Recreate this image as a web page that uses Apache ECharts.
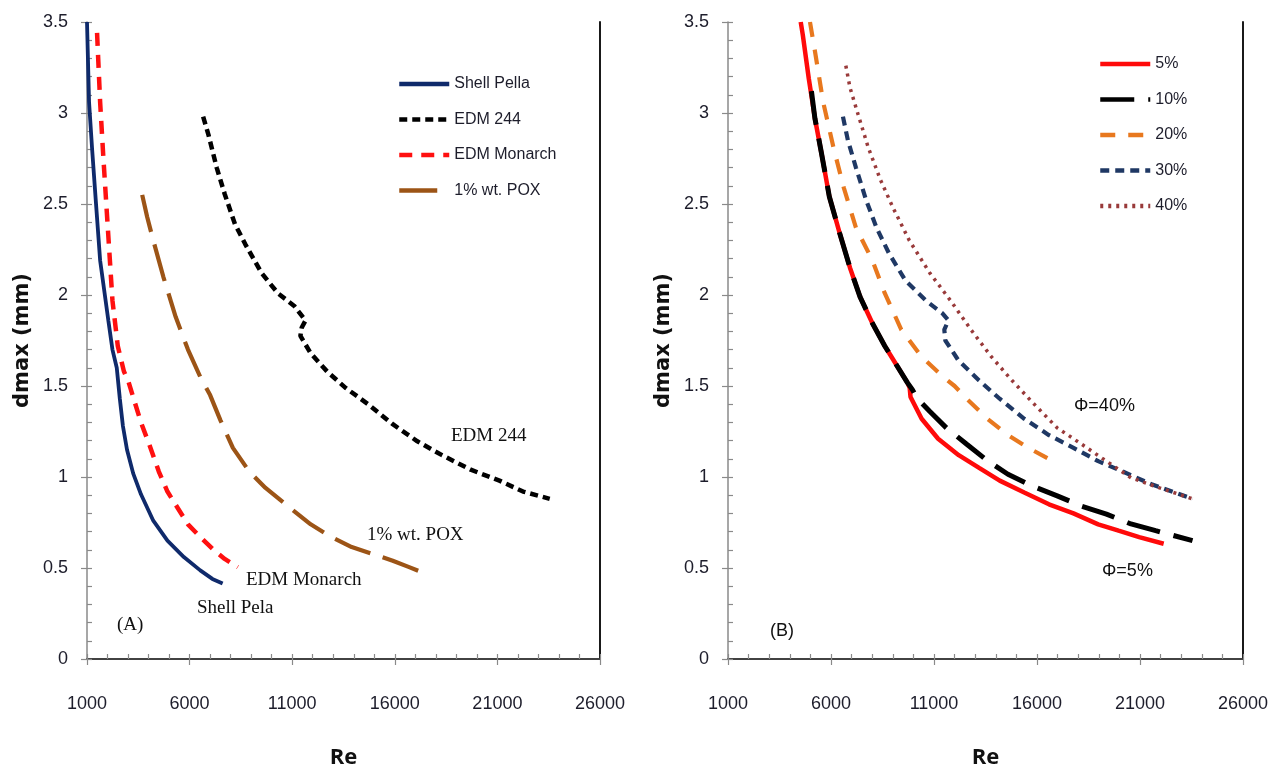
<!DOCTYPE html>
<html>
<head>
<meta charset="utf-8">
<script src="https://cdn.jsdelivr.net/npm/echarts@6/dist/echarts.min.js"></script>
<style>
  html, body { margin: 0; padding: 0; background: #fff; }
  #chart { width: 1280px; height: 774px; }
</style>
</head>
<body>
<div id="chart"></div>
<script>
// ---- Data (Re, dmax in mm) ----
const xTicks = [1000, 6000, 11000, 16000, 21000, 26000];
const yTicks = [0, 0.5, 1, 1.5, 2, 2.5, 3, 3.5];

// Panel A
const shellPella = [[1000,3.5],[1100,3.06],[1250,2.8],[1440,2.5],[1640,2.19],[2040,1.86],[2240,1.70],[2450,1.6],[2600,1.43],[2750,1.28],[2950,1.15],[3250,1.02],[3630,0.905],[4230,0.76],[4920,0.65],[5720,0.56],[6520,0.487],[7110,0.44],[7610,0.415]];
const edm244 = [[6660,2.98],[6920,2.88],[7320,2.70],[7710,2.555],[8210,2.39],[8710,2.28],[9510,2.12],[10300,2.01],[11100,1.94],[11650,1.86],[11460,1.82],[11400,1.775],[11900,1.68],[12700,1.58],[13600,1.49],[14700,1.40],[15900,1.29],[17100,1.196],[18300,1.12],[19700,1.04],[21100,0.98],[22250,0.92],[23550,0.88]];
const edmMonarch = [[1490,3.44],[1640,3.06],[1800,2.75],[1980,2.43],[2240,1.97],[2500,1.72],[2800,1.58],[3030,1.52],[3630,1.30],[4030,1.18],[4500,1.03],[4920,0.92],[5420,0.83],[5920,0.74],[6520,0.67],[7120,0.605],[7710,0.55],[8350,0.505]];
const pox = [[3690,2.55],[3930,2.43],[4230,2.30],[4720,2.10],[5320,1.88],[5920,1.70],[6520,1.55],[7000,1.45],[7510,1.31],[8110,1.16],[8910,1.03],[9700,0.94],[10900,0.83],[11900,0.74],[12900,0.67],[13900,0.615],[14900,0.578],[15900,0.54],[16700,0.505],[17250,0.48]];

// Panel B
const phi5 = [[4530,3.5],[4630,3.43],[4920,3.19],[5220,2.97],[5520,2.79],[5920,2.54],[6420,2.34],[6920,2.15],[7410,1.99],[8010,1.845],[8610,1.72],[9210,1.61],[9700,1.52],[9820,1.49],[9860,1.44],[10400,1.32],[11200,1.21],[12200,1.12],[13190,1.05],[14190,0.98],[15380,0.915],[16580,0.85],[17770,0.80],[18970,0.74],[19960,0.705],[20960,0.67],[22150,0.633]];
const phi10 = [[5050,3.12],[5220,2.97],[5520,2.79],[5920,2.54],[6420,2.34],[6920,2.15],[7410,1.99],[8010,1.845],[8610,1.72],[9210,1.61],[9700,1.52],[9950,1.48],[10200,1.43],[10800,1.36],[11600,1.27],[12590,1.18],[13590,1.09],[14590,1.015],[15780,0.95],[16980,0.896],[18170,0.84],[19370,0.796],[20560,0.742],[21760,0.705],[23550,0.65]];
const phi20 = [[4980,3.5],[5220,3.34],[5620,3.06],[6120,2.81],[6620,2.59],[7210,2.37],[8010,2.19],[8610,2.01],[9410,1.81],[10400,1.66],[11400,1.555],[12000,1.50],[12590,1.43],[13590,1.32],[14590,1.23],[15580,1.16],[16780,1.087]];
const phi30 = [[6580,2.98],[6820,2.85],[7210,2.70],[7710,2.52],[8210,2.37],[8810,2.23],[9610,2.08],[10600,1.97],[11400,1.90],[11700,1.86],[11500,1.81],[11550,1.75],[12190,1.64],[13190,1.53],[14190,1.43],[15380,1.32],[16580,1.23],[17770,1.16],[18970,1.087],[20160,1.03],[21560,0.96],[23550,0.88]];
const phi40 = [[6720,3.26],[6920,3.14],[7320,2.99],[7810,2.81],[8410,2.63],[9010,2.48],[9800,2.30],[10800,2.12],[11800,1.97],[12790,1.81],[13790,1.66],[14790,1.53],[15780,1.41],[16980,1.27],[18170,1.18],[19370,1.087],[20560,0.996],[21950,0.94],[23550,0.88]];

const namesA = ['Shell Pella', 'EDM 244', 'EDM Monarch', '1% wt. POX'];
const namesB = ['5%', '10%', '20%', '30%', '40%'];

// ---- Styling ----
const sans = "'Liberation Sans', Arial, sans-serif";
const serif = "'Liberation Serif', 'DejaVu Serif', serif";
const axisGray = '#8a8a8a';
const xMin = xTicks[0], xMax = xTicks[xTicks.length - 1], xInt = xTicks[1] - xTicks[0];
const yMin = yTicks[0], yMax = yTicks[yTicks.length - 1], yInt = yTicks[1] - yTicks[0];

function xAxesFor(g) {
  return [
    { gridIndex: g, type: 'value', min: xMin, max: xMax, interval: xInt, position: 'bottom',
      axisLine: { lineStyle: { color: axisGray, width: 1.5 } },
      axisTick: { inside: true, length: 5, lineStyle: { color: axisGray, width: 1.2 } },
      minorTick: { show: true, splitNumber: 5, length: 5, lineStyle: { color: axisGray, width: 1.2 } },
      axisLabel: { margin: 36, fontFamily: sans, fontSize: 18, color: '#1d1d2b', formatter: v => String(v) },
      splitLine: { show: false },
      name: 'Re', nameLocation: 'middle', nameGap: 88,
      nameTextStyle: { fontFamily: "'Open Sans', sans-serif", fontWeight: 'bold', fontSize: 22, color: '#111' } },
    { gridIndex: g, type: 'value', min: xMin, max: xMax, interval: xInt, position: 'bottom',
      axisLine: { show: false }, axisTick: { inside: false, length: 6, lineStyle: { color: axisGray, width: 1.2 } },
      axisLabel: { show: false }, splitLine: { show: false } },
    { gridIndex: g, type: 'value', min: xMin, max: xMax, interval: xInt, position: 'top',
      axisLine: { lineStyle: { color: '#222', width: 1.5 } }, axisTick: { show: false },
      axisLabel: { show: false }, splitLine: { show: false } }
  ];
}
function yAxesFor(g) {
  return [
    { gridIndex: g, type: 'value', min: yMin, max: yMax, interval: yInt, position: 'left',
      axisLine: { lineStyle: { color: axisGray, width: 1.5 } },
      axisTick: { inside: true, length: 5, lineStyle: { color: axisGray, width: 1.2 } },
      minorTick: { show: true, splitNumber: 5, length: 5, lineStyle: { color: axisGray, width: 1.2 } },
      axisLabel: { margin: 19, fontFamily: sans, fontSize: 18, color: '#1d1d2b' },
      splitLine: { show: false },
      name: 'dmax (mm)', nameLocation: 'middle', nameGap: 54, nameRotate: 90,
      nameTextStyle: { fontFamily: "'DejaVu Sans', sans-serif", fontWeight: 'bold', fontSize: 21, color: '#111' } },
    { gridIndex: g, type: 'value', min: yMin, max: yMax, interval: yInt, position: 'left',
      axisLine: { show: false }, axisTick: { inside: false, length: 6, lineStyle: { color: axisGray, width: 1.2 } },
      axisLabel: { show: false }, splitLine: { show: false } },
    { gridIndex: g, type: 'value', min: yMin, max: yMax, interval: yInt, position: 'right',
      axisLine: { lineStyle: { color: '#000', width: 1.8 } }, axisTick: { show: false },
      axisLabel: { show: false }, splitLine: { show: false } }
  ];
}

function line(name, data, axisIdx, color, width, dash, cap) {
  return {
    name: name, type: 'line', data: data, xAxisIndex: axisIdx, yAxisIndex: axisIdx,
    symbol: 'none', smooth: false, animation: false, z: 3,
    lineStyle: { color: color, width: width, type: dash, cap: cap || 'butt' },
    itemStyle: { color: color }
  };
}

const series = [
  line(namesA[0], shellPella, 0, '#0f2a6b', 3.8, 'solid'),
  line(namesA[1], edm244, 0, '#000000', 4.5, [8, 5]),
  line(namesA[2], edmMonarch, 0, '#ff1010', 4.5, [13, 9]),
  line(namesA[3], pox, 0, '#9c5416', 4.2, [38, 13]),
  line(namesB[0], phi5, 3, '#ff0a0a', 4.5, 'solid'),
  line(namesB[1], phi10, 3, '#000000', 5, [34, 14]),
  line(namesB[2], phi20, 3, '#e8781e', 4.2, [15, 13]),
  line(namesB[3], phi30, 3, '#1f3864', 4.2, [9, 6]),
  line(namesB[4], phi40, 3, '#993a3a', 3.5, [3, 5])
];

function txt(text, x, y, font, size) {
  return { type: 'text', left: x, top: y - size * 0.6,
    style: { text: text, fontFamily: font, fontSize: size, fill: '#111' } };
}

const legendCommon = {
  orient: 'vertical', itemWidth: 50, itemHeight: 18, itemGap: 19.5, padding: 0,
  itemStyle: { opacity: 0 },
  lineStyle: { width: 4.5 },
  textStyle: { fontFamily: sans, fontSize: 16, color: '#1d1d2b' }
};

const chart = echarts.init(document.getElementById('chart'), null, { renderer: 'canvas' });
chart.setOption({
  backgroundColor: '#ffffff',
  animation: false,
  grid: [
    { left: 87, top: 22, width: 513, height: 640 },
    { left: 728, top: 22, width: 515, height: 640 }
  ],
  xAxis: xAxesFor(0).concat(xAxesFor(1)),
  yAxis: yAxesFor(0).concat(yAxesFor(1)),
  legend: [
    Object.assign({ data: namesA, left: 397, top: 76 }, legendCommon),
    Object.assign({ data: namesB, left: 1098, top: 56 }, legendCommon)
  ],
  series: series,
  graphic: [
    txt('EDM 244', 451, 438, serif, 19),
    txt('1% wt. POX', 367, 537, serif, 19),
    txt('EDM Monarch', 246, 582, serif, 19),
    txt('Shell Pela', 197, 610, serif, 19),
    txt('(A)', 117, 627, serif, 19),
    txt('Φ=40%', 1074, 408, sans, 18),
    txt('Φ=5%', 1102, 573, sans, 18),
    txt('(B)', 770, 633, sans, 18)
  ]
});
</script>
</body>
</html>
